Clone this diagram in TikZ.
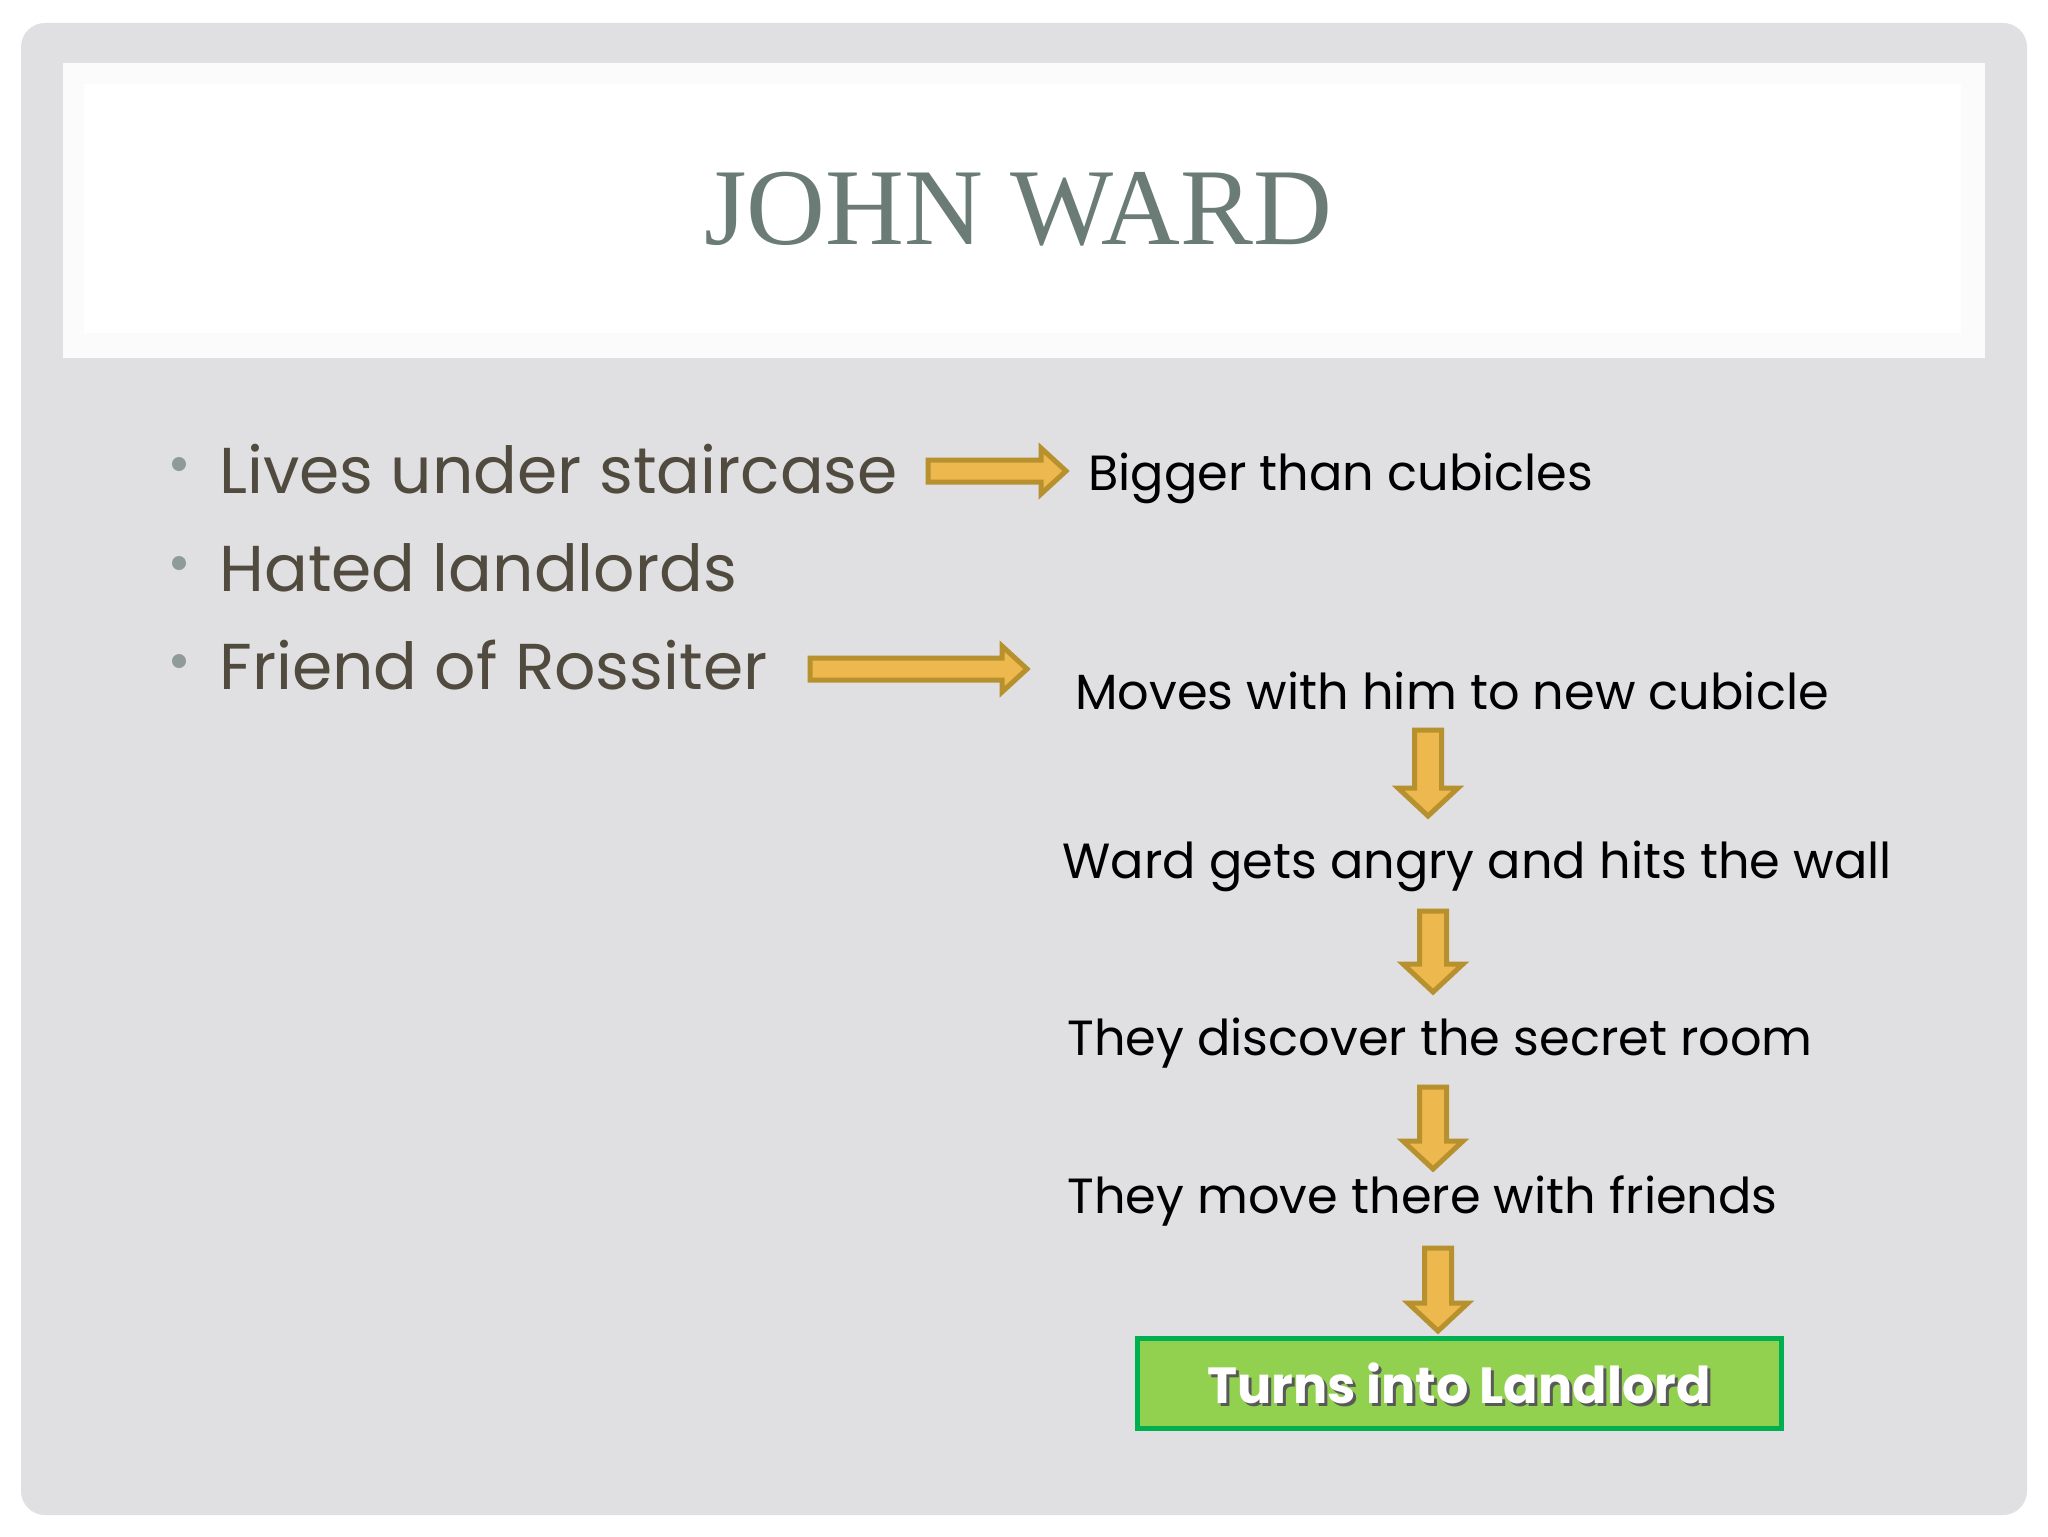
\documentclass[tikz,border=0pt]{standalone}
\usepackage{fontspec}
\usetikzlibrary{calc}
\newfontfamily\popfont{Poppins}
\newfontfamily\titlefont{Liberation Serif}
\definecolor{pagebg}{RGB}{224,223,225}
\definecolor{titlegreen}{RGB}{107,123,117}
\definecolor{bullettext}{RGB}{80,75,62}
\definecolor{bulletdot}{RGB}{143,155,152}
\definecolor{arrfill}{RGB}{237,184,77}
\definecolor{arrline}{RGB}{184,145,47}
\definecolor{boxfill}{RGB}{146,208,80}
\definecolor{boxline}{RGB}{0,176,80}
\tikzset{
  bullettxt/.style={anchor=base west, inner sep=0pt, text=bullettext, font=\popfont\fontsize{32.4}{38}\selectfont},
  stepttxt/.style={anchor=base west, inner sep=0pt, text=black, font=\popfont\fontsize{24.7}{30}\selectfont},
  blockarr/.style={fill=arrfill, draw=arrline, line width=2.5pt, line join=miter},
  dotstyle/.style={circle, fill=bulletdot, inner sep=0pt, minimum size=7pt},
}
\newcommand\harr[2]{\filldraw[blockarr] ($(#1)+(0,-11)$) -- ($(#2)+(-25,-11)$) -- ($(#2)+(-25,-23)$) -- (#2) -- ($(#2)+(-25,23)$) -- ($(#2)+(-25,11)$) -- ($(#1)+(0,11)$) -- cycle;}
\newcommand\varr[2]{\filldraw[blockarr] ($(#1)+(-13.5,0)$) -- ($(#2)+(-13.5,-28)$) -- ($(#2)+(-30,-28)$) -- (#2) -- ($(#2)+(30,-28)$) -- ($(#2)+(13.5,-28)$) -- ($(#1)+(13.5,0)$) -- cycle;}
\begin{document}
\begin{tikzpicture}[x=0.5pt, y=-0.5pt]
\useasboundingbox (0,0) rectangle (2048,1536);
\fill[white] (0,0) rectangle (2048,1536);
\fill[pagebg, rounded corners=12pt] (21,23) rectangle (2027,1515);
% title band
\fill[white!97!gray] (63,63) rectangle (1985,358);
\fill[white] (84,84) rectangle (1961,333);
\node[anchor=base, inner sep=0pt, text=titlegreen, font=\titlefont\fontsize{54.6}{60}\selectfont] (title) at (1018,244) {JOHN WARD};
% bullets
\node[dotstyle] (d1) at (179,464) {};
\node[dotstyle] (d2) at (179,563) {};
\node[dotstyle] (d3) at (179,661) {};
\node[bullettxt] (b1) at (219,493) {Lives under staircase};
\node[bullettxt] (b2) at (219,591) {Hated landlords};
\node[bullettxt] (b3) at (219,689) {Friend of Rossiter};
% right texts
\node[stepttxt] (r1) at (1088,490) {Bigger than cubicles};
\node[stepttxt] (s1) at (1075,709) {Moves with him to new cubicle};
\node[stepttxt] (s2) at (1062,878) {Ward gets angry and hits the wall};
\node[stepttxt] (s3) at (1067,1055) {They discover the secret room};
\node[stepttxt] (s4) at (1067,1213) {They move there with friends};
% final box
\node[draw=boxline, fill=boxfill, line width=2.5pt, minimum width=322pt, minimum height=45pt, inner sep=0pt] (fin) at (1459,1383) {};
\node[inner sep=0pt, text=black!65, font=\popfont\bfseries\fontsize{25.4}{30}\selectfont] at ($(fin.center)+(3,3)$) {Turns into Landlord};
\node[inner sep=0pt, text=white, font=\popfont\bfseries\fontsize{25.4}{30}\selectfont] (fintxt) at (fin.center) {Turns into Landlord};
% arrows
\coordinate (a1s) at (928,471); \coordinate (a1e) at (1066,471);
\coordinate (a2s) at (810,669); \coordinate (a2e) at (1027,669);
\coordinate (v1s) at (1428,730); \coordinate (v1e) at (1428,816);
\coordinate (v2s) at (1433,911); \coordinate (v2e) at (1433,992);
\coordinate (v3s) at (1433,1087); \coordinate (v3e) at (1433,1169);
\coordinate (v4s) at (1438,1248); \coordinate (v4e) at (1438,1331);
\harr{a1s}{a1e}
\harr{a2s}{a2e}
\varr{v1s}{v1e}
\varr{v2s}{v2e}
\varr{v3s}{v3e}
\varr{v4s}{v4e}
\end{tikzpicture}
\end{document}
